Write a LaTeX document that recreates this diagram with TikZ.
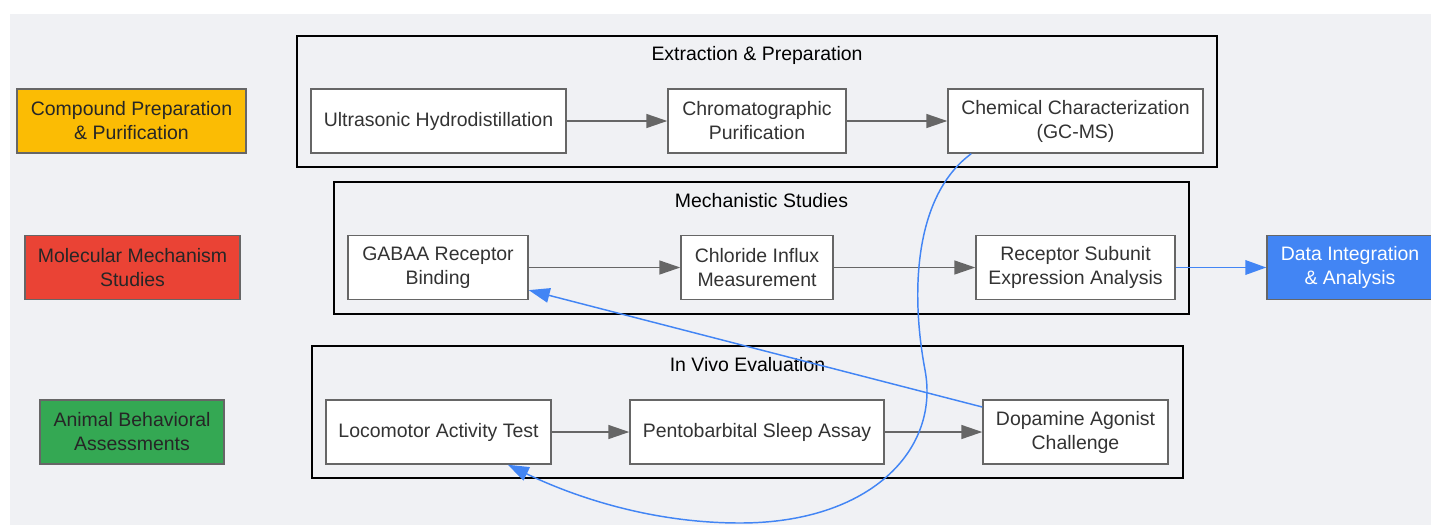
\documentclass[tikz,border=0pt]{standalone}
\usepackage{fontspec}
\setmainfont{Liberation Sans}
\usetikzlibrary{arrows.meta}

\definecolor{fondo}{HTML}{F0F1F4}
\definecolor{borde}{HTML}{666666}
\definecolor{texto}{HTML}{333333}
\definecolor{amarillo}{HTML}{FBBC04}
\definecolor{rojo}{HTML}{EA4335}
\definecolor{verde}{HTML}{34A853}
\definecolor{azul}{HTML}{4285F4}

\begin{document}
\begin{tikzpicture}[
  x=0.75pt,
  y=-0.75pt,
  font=\fontsize{14.6pt}{18pt}\selectfont,
  caja/.style={draw=borde, line width=1.1pt, fill=white, text=texto,
    align=center, minimum height=48pt, inner sep=0pt},
  grupo/.style={draw=black, line width=1.1pt},
  flecha/.style={draw=borde, line width=1.1pt,
    -{Triangle[length=15.75pt, width=10.5pt]}},
  flechaazul/.style={draw=azul, line width=1.1pt,
    -{Triangle[length=15.75pt, width=11pt]}}
]

%--------------------
% Fondo
%--------------------
\useasboundingbox (0,0) rectangle (1431,525);
\fill[fondo] (10,14) rectangle (1431,525);

%--------------------
% Grupos
%--------------------
\draw[grupo] (297,36) rectangle (1217,167);
\draw[grupo] (334,182) rectangle (1189,314);
\draw[grupo] (312,346) rectangle (1183,478);
\node (tExtr) at (757,55) {Extraction \& Preparation};
\node (tMech) at (761.5,201) {Mechanistic Studies};
\node (tVivo) at (747.5,365) {In Vivo Evaluation};

%--------------------
% Etiquetas de fila
%--------------------
\node[caja, fill=amarillo, text=black!85, minimum width=171.75pt] (comp) at (131.5,121)
  {Compound Preparation\\\& Purification};
\node[caja, fill=rojo, text=black!85, minimum width=161.25pt] (mol) at (132.5,267.5)
  {Molecular Mechanism\\Studies};
\node[caja, fill=verde, text=black!85, minimum width=138pt] (anim) at (132,432)
  {Animal Behavioral\\Assessments};

%--------------------
% Nodos
%--------------------
\node[caja, minimum width=191.25pt] (ultra) at (438.5,121) {Ultrasonic Hydrodistillation};
\node[caja, minimum width=133.5pt] (chrom) at (757,121) {Chromatographic\\Purification};
\node[caja, minimum width=191.25pt] (chem) at (1075.5,121) {Chemical Characterization\\(GC-MS)};

\node[caja, minimum width=135pt] (gaba) at (438,267.5) {GABAA Receptor\\Binding};
\node[caja, minimum width=114pt] (chlor) at (757,267.5) {Chloride Influx\\Measurement};
\node[caja, minimum width=149.25pt] (recep) at (1075.5,267.5) {Receptor Subunit\\Expression Analysis};
\node[caja, fill=azul, text=white, minimum width=124.5pt] (data) at (1350,267.5)
  {Data Integration\\\& Analysis};

\node[caja, minimum width=168.75pt] (loco) at (438.5,432) {Locomotor Activity Test};
\node[caja, minimum width=190.5pt] (pento) at (757,432) {Pentobarbital Sleep Assay};
\node[caja, minimum width=138.75pt] (dopa) at (1075.5,432) {Dopamine Agonist\\Challenge};

%--------------------
% Flechas
%--------------------
\foreach \a/\b in {ultra/chrom, chrom/chem, gaba/chlor, chlor/recep, loco/pento, pento/dopa} {
  \draw[flecha] (\a) -- (\b);
}

\draw[flechaazul] (recep) -- (data);
\draw[flechaazul] (dopa.165) -- (gaba.-14);

% curva de GC-MS a locomotor
\draw[flechaazul] ([xshift=18pt]chem.south west)
  .. controls (915,195) and (910,290) .. (925,370)
  .. controls (940,450) and (870,523) .. (740,523)
  .. controls (640,523) and (560,490) .. ([xshift=52pt]loco.south);

\end{tikzpicture}
\end{document}
